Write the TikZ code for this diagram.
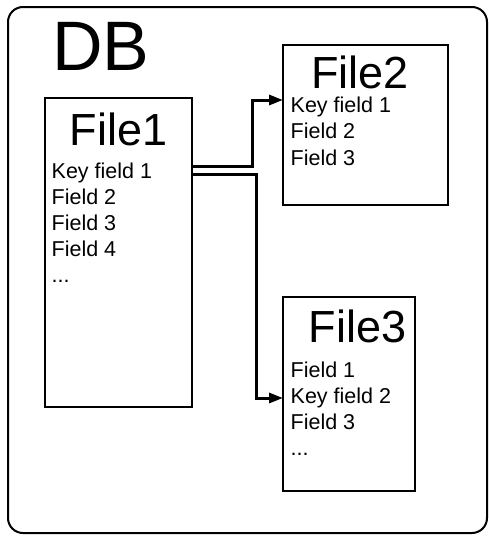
\documentclass[tikz,border=0pt]{standalone}
\usepackage{fontspec}
\setmainfont{Liberation Sans}
\usetikzlibrary{arrows.meta}
\begin{document}
\begin{tikzpicture}[x=1pt,y=-1pt,
  filebox/.style={draw=black,line width=2pt,inner sep=0pt},
  titletext/.style={font=\fontsize{45}{50}\selectfont,anchor=base,inner sep=0pt},
  fieldtext/.style={font=\fontsize{21.5}{26}\selectfont,anchor=base west,inner sep=0pt},
  link/.style={draw=black,line width=3pt,-{Stealth[length=14pt,width=10pt,inset=0pt]}}]
\useasboundingbox (0,0) rectangle (489,536);
% outer DB container
\draw[line width=2pt,rounded corners=15pt] (8,7) rectangle (487,533);
\node[font=\fontsize{70}{80}\selectfont,anchor=base west,inner sep=0pt] (db) at (52,70) {DB};
% File1
\draw[filebox] (45,98) rectangle (192,407);
\node[titletext] (t1) at (118.5,145) {File1};
\node[fieldtext] (f1a) at (51.5,178.5) {Key field 1};
\node[fieldtext] (f1b) at (51.5,204.5) {Field 2};
\node[fieldtext] (f1c) at (51.5,230.5) {Field 3};
\node[fieldtext] (f1d) at (51.5,256.5) {Field 4};
\node[fieldtext] (f1e) at (51.5,282.5) {...};
% File2
\draw[filebox] (283,45) rectangle (448,205);
\node[titletext] (t2) at (360,88) {File2};
\node[fieldtext] (f2a) at (290.5,112) {Key field 1};
\node[fieldtext] (f2b) at (290.5,138.5) {Field 2};
\node[fieldtext] (f2c) at (290.5,165) {Field 3};
% File3
\draw[filebox] (283,297) rectangle (415,491);
\node[titletext] (t3) at (357.5,342) {File3};
\node[fieldtext] (f3a) at (290.5,377) {Field 1};
\node[fieldtext] (f3b) at (290.5,403) {Key field 2};
\node[fieldtext] (f3c) at (290.5,429) {Field 3};
\node[fieldtext] (f3d) at (290.5,455) {...};
% connectors
\coordinate (s1) at (192,166);
\coordinate (s2) at (192,174);
\coordinate (e1) at (283,100);
\coordinate (e2) at (283,398);
\draw[link] (s1) -- (252,166) -- (252,100) -- (e1);
\draw[link] (s2) -- (256,174) -- (256,398) -- (e2);
\end{tikzpicture}
\end{document}
